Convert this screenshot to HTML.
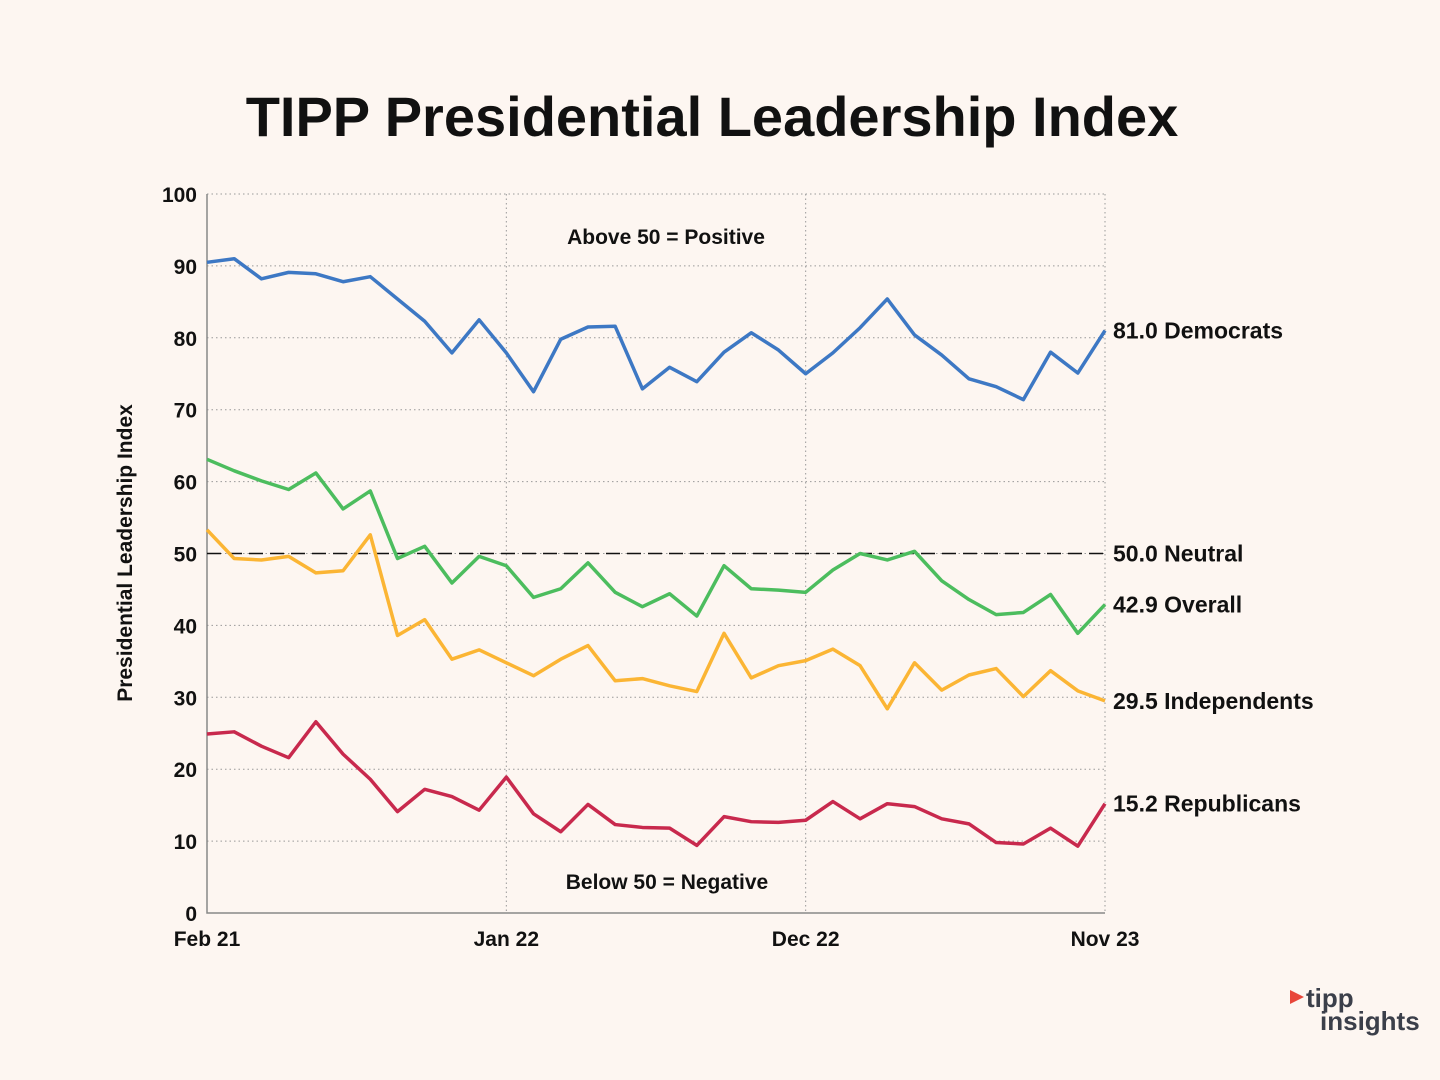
<!DOCTYPE html>
<html><head><meta charset="utf-8"><style>
body{margin:0;background:#fdf6f1;}
svg{display:block;font-family:"Liberation Sans",sans-serif;}
</style></head><body>
<svg id="chart" width="1440" height="1080">
<rect width="1440" height="1080" fill="#fdf6f1"/>
<text x="712" y="136" text-anchor="middle" font-size="56" font-weight="bold" fill="#111">TIPP Presidential Leadership Index</text>
<g id="grid"></g><g id="series"></g><g id="labels"></g>
<text transform="translate(132,553) rotate(-90)" text-anchor="middle" font-size="21" font-weight="bold" fill="#111">Presidential Leadership Index</text>
<text x="666" y="244" text-anchor="middle" font-size="21" font-weight="bold" fill="#111">Above 50 = Positive</text>
<text x="667" y="889" text-anchor="middle" font-size="21" font-weight="bold" fill="#111">Below 50 = Negative</text>
<g>
<polygon points="1290,990 1304,997 1290,1004" fill="#e8463a"/>
<text x="1306" y="1007" font-size="26" font-weight="bold" fill="#3b3f4a">tipp</text>
<text x="1320" y="1030" font-size="26" font-weight="bold" fill="#3b3f4a">insights</text>
</g>
</svg>
<script>
const dem=[90.5,91,88.2,89.1,88.9,87.8,88.5,85.4,82.3,77.9,82.5,77.9,72.5,79.8,81.5,81.6,72.9,75.9,73.9,78.0,80.7,78.3,75.0,77.9,81.4,85.4,80.4,77.6,74.3,73.2,71.4,78.0,75.1,81.0];
const overall=[63.1,61.5,60.1,58.9,61.2,56.2,58.7,49.3,51.0,45.9,49.6,48.3,43.9,45.1,48.7,44.6,42.6,44.4,41.3,48.3,45.1,44.9,44.6,47.7,50.0,49.1,50.3,46.2,43.6,41.5,41.8,44.3,38.9,42.9];
const ind=[53.3,49.3,49.1,49.6,47.3,47.6,52.6,38.6,40.8,35.3,36.6,34.8,33.0,35.3,37.2,32.3,32.6,31.6,30.8,38.9,32.7,34.4,35.1,36.7,34.4,28.4,34.8,31.0,33.1,34.0,30.1,33.7,30.9,29.5];
const rep=[24.9,25.2,23.2,21.6,26.6,22.1,18.6,14.1,17.2,16.2,14.3,18.9,13.8,11.3,15.1,12.3,11.9,11.8,9.4,13.4,12.7,12.6,12.9,15.5,13.1,15.2,14.8,13.1,12.4,9.8,9.6,11.8,9.3,15.2];
const yTicks=[0,10,20,30,40,50,60,70,80,90,100];
const xTickIdx=[0,11,22,33];
const xTickLabels=["Feb 21","Jan 22","Dec 22","Nov 23"];
const neutral=50;
const NS="http://www.w3.org/2000/svg";
const X0=207,X1=1105,Y0=913,Y1=194,N=dem.length;
const xs=i=>X0+(X1-X0)*i/(N-1);
const ys=v=>Y0-(Y0-Y1)*v/100;
function mk(tag,attrs,parent,txt){const e=document.createElementNS(NS,tag);for(const k in attrs)e.setAttribute(k,attrs[k]);if(txt!=null)e.textContent=txt;parent.appendChild(e);return e;}
const grid=document.getElementById('grid');
yTicks.forEach(t=>{
 if(t>0){const l=mk('line',{x1:X0,x2:X1,y1:ys(t),y2:ys(t),stroke:'#999','stroke-dasharray':'1.5,3','stroke-width':1},grid);
 
 }
 const tx=mk('text',{x:X0-10,y:ys(t)+8,'text-anchor':'end','font-size':21,'font-weight':'bold',fill:'#111'},grid,String(t));
 
 
});
xTickIdx.forEach((idx,k)=>{
 if(idx>0){const l=mk('line',{x1:xs(idx),x2:xs(idx),y1:Y1,y2:Y0,stroke:'#999','stroke-dasharray':'1.5,3'},grid);
 
 }
 const tx=mk('text',{x:xs(idx),y:946,'text-anchor':'middle','font-size':21,'font-weight':'bold',fill:'#111'},grid,xTickLabels[k]);
 
 
});
const ax=mk('path',{d:`M${X0},${Y1}V${Y0}H${X1}`,fill:'none',stroke:'#888','stroke-width':1.5},grid);


const nl=mk('line',{x1:X0,x2:X1,y1:ys(neutral),y2:ys(neutral),stroke:'#111','stroke-width':1.5,'stroke-dasharray':'14,7'},grid);


const ser=document.getElementById('series'),lab=document.getElementById('labels');
[[dem,'#3d78c4','democrats','Democrats'],[overall,'#4cbd5e','overall','Overall'],[ind,'#fbb534','independents','Independents'],[rep,'#c8294d','republicans','Republicans']].forEach(([d,c,n,lbl])=>{
 const p=mk('polyline',{points:d.map((v,i)=>xs(i)+','+ys(v)).join(' '),fill:'none',stroke:c,'stroke-width':3.5,'stroke-linejoin':'round'},ser);
 
 
 const t=mk('text',{x:X1+8,y:ys(d[N-1])+8,'font-size':23,'font-weight':'bold',fill:'#111'},lab,d[N-1].toFixed(1)+' '+lbl);
 
 
});
const nt=mk('text',{x:X1+8,y:ys(neutral)+8,'font-size':23,'font-weight':'bold',fill:'#111'},lab,neutral.toFixed(1)+' Neutral');


</script>
</body></html>
